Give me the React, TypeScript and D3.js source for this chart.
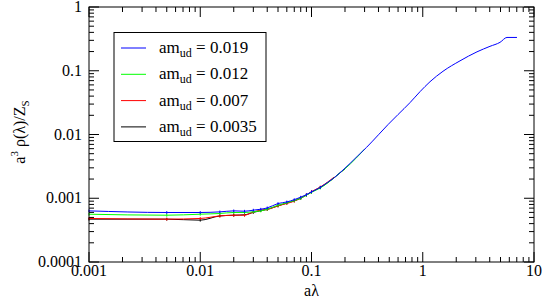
import React from "react";
import * as d3 from "d3";

const lamBlue = [0.001, 0.005, 0.01, 0.015, 0.02, 0.025, 0.03, 0.035, 0.04, 0.05, 0.06, 0.07, 0.08, 0.09, 0.1, 0.12, 0.14, 0.16, 0.18, 0.2, 0.222, 0.26, 0.313, 0.4, 0.487, 0.6, 0.768, 0.945, 1.162, 1.52, 2.162, 3.073, 4.02, 4.95, 5.72, 7.03];
const valBlue = [0.000634, 0.000598, 0.000598, 0.000611, 0.000634, 0.000626, 0.00065, 0.000673, 0.000705, 0.000826, 0.000875, 0.00095, 0.00104, 0.00114, 0.00126, 0.00148, 0.00178, 0.0021, 0.0025, 0.00297, 0.00352, 0.00461, 0.0063, 0.0099, 0.0143, 0.0206, 0.0316, 0.047, 0.0673, 0.098, 0.143, 0.198, 0.2415, 0.279, 0.333, 0.333];

const lamGreen = [0.001, 0.005, 0.01, 0.015, 0.02, 0.025, 0.03, 0.035, 0.04, 0.05, 0.06, 0.07, 0.08, 0.09, 0.1, 0.12, 0.14, 0.16, 0.18, 0.2, 0.25, 0.3];
const valGreen = [0.000562, 0.000542, 0.000562, 0.000577, 0.000598, 0.000598, 0.000615, 0.000634, 0.000673, 0.000778, 0.00085, 0.00092, 0.001, 0.00112, 0.00124, 0.00145, 0.00174, 0.0021, 0.0025, 0.0029, 0.0042, 0.0059];

const lamRed = [0.001, 0.005, 0.01, 0.015, 0.02, 0.025, 0.03, 0.035, 0.04, 0.05, 0.06, 0.07, 0.08, 0.09, 0.1, 0.12, 0.14, 0.16];
const valRed = [0.000482, 0.00047, 0.000482, 0.000528, 0.000542, 0.000542, 0.00061, 0.00065, 0.000666, 0.000759, 0.00083, 0.0009, 0.00101, 0.00113, 0.00127, 0.0015, 0.0018, 0.00215];

const lamBlack = [0.001, 0.005, 0.01, 0.015, 0.02, 0.025, 0.03, 0.035, 0.04, 0.05, 0.06, 0.07, 0.08, 0.09, 0.1, 0.12, 0.14, 0.16, 0.18, 0.2];
const valBlack = [0.00047, 0.00047, 0.000453, 0.000528, 0.000542, 0.00055, 0.0006, 0.00064, 0.00067, 0.00076, 0.00084, 0.00091, 0.001, 0.00112, 0.00125, 0.00148, 0.00176, 0.0021, 0.0025, 0.0029];

const seriesNames = ["0.019", "0.012", "0.007", "0.0035"];
const seriesColors = ["#0000ff", "#00ff00", "#ff0000", "#000000"];

const xTickLabels = ["0.001", "0.01", "0.1", "1", "10"];
const yTickLabels = ["0.0001", "0.001", "0.01", "0.1", "1"];
const REL_ERR = 0.05;

const FONT = "Liberation Serif, Times New Roman, Times, Nimbus Roman, Tinos, Noto Serif, FreeSerif, DejaVu Serif, serif";

export default function App() {
  const W = 545, H = 302;
  const L = 89, R = 534, T = 7, B = 262;
  const x = d3.scaleLog().domain([0.001, 10]).range([L, R]);
  const y = d3.scaleLog().domain([0.0001, 1]).range([B, T]);

  const series = [
    { lam: lamBlue, val: valBlue },
    { lam: lamGreen, val: valGreen },
    { lam: lamRed, val: valRed },
    { lam: lamBlack, val: valBlack },
  ];
  const line = d3.line<[number, number]>().x((d) => x(d[0])).y((d) => y(d[1])).curve(d3.curveMonotoneX);

  const xMajor = xTickLabels.map(Number);
  const yMajor = yTickLabels.map(Number);
  const xMinor: number[] = [];
  xMajor.slice(0, -1).forEach((m) => { for (let k = 2; k <= 9; k++) xMinor.push(m * k); });
  const yMinor: number[] = [];
  yMajor.slice(0, -1).forEach((m) => { for (let k = 2; k <= 9; k++) yMinor.push(m * k); });

  const MAJ = 10, MIN = 5;
  const order = [3, 2, 1, 0];

  return (
    <svg width={W} height={H} style={{ position: "absolute", left: 0, top: 0, background: "#fff", fontFamily: FONT }}>
      <rect x={0} y={0} width={W} height={H} fill="#fff" />
      {order.map((si) => {
        const s = series[si];
        const pts = s.lam.map((l, i) => [l, s.val[i]] as [number, number]);
        return (
          <g key={si} stroke={seriesColors[si]} fill="none" strokeWidth={1}>
            <path d={line(pts) || ""} />
            {pts.filter((p) => p[0] <= 0.12).map((p, i) => {
              const cx = x(p[0]);
              const y1 = y(p[1] * (1 + REL_ERR));
              const y2 = y(p[1] * (1 - REL_ERR));
              return <line key={i} x1={cx} x2={cx} y1={y1} y2={y2} />;
            })}
          </g>
        );
      })}
      <rect x={L} y={T} width={R - L} height={B - T} fill="none" stroke="#000" strokeWidth={1} />
      <g stroke="#000" strokeWidth={1}>
        {xMajor.map((v, i) => (
          <g key={"xm" + i}>
            <line x1={x(v)} x2={x(v)} y1={B} y2={B - MAJ} />
            <line x1={x(v)} x2={x(v)} y1={T} y2={T + MAJ} />
          </g>
        ))}
        {xMinor.map((v, i) => (
          <g key={"xn" + i}>
            <line x1={x(v)} x2={x(v)} y1={B} y2={B - MIN} />
            <line x1={x(v)} x2={x(v)} y1={T} y2={T + MIN} />
          </g>
        ))}
        {yMajor.map((v, i) => (
          <g key={"ym" + i}>
            <line x1={L} x2={L + MAJ} y1={y(v)} y2={y(v)} />
            <line x1={R} x2={R - MAJ} y1={y(v)} y2={y(v)} />
          </g>
        ))}
        {yMinor.map((v, i) => (
          <g key={"yn" + i}>
            <line x1={L} x2={L + MIN} y1={y(v)} y2={y(v)} />
            <line x1={R} x2={R - MIN} y1={y(v)} y2={y(v)} />
          </g>
        ))}
      </g>
      <g fontSize={16} fill="#000">
        {xTickLabels.map((t, i) => (
          <text key={"xl" + i} x={x(xMajor[i])} y={B + 14} textAnchor="middle">{t}</text>
        ))}
        {yTickLabels.map((t, i) => (
          <text key={"yl" + i} x={L - 7} y={y(yMajor[i]) + 5} textAnchor="end">{t}</text>
        ))}
      </g>
      <text x={(L + R) / 2} y={296} textAnchor="middle" fontSize={16}>aλ</text>
      <g transform="translate(25,132) rotate(-90)">
        <text x={0} y={0} textAnchor="middle" fontSize={16}>
          a<tspan dy={-7} fontSize={11}>3</tspan>
          <tspan dy={7}> ρ(λ)/Z</tspan>
          <tspan dy={4} fontSize={11}>S</tspan>
        </text>
      </g>
      <rect x={114} y={32.5} width={152} height={109} fill="#fff" stroke="#000" strokeWidth={1} />
      {seriesNames.map((n, i) => {
        const ly = 48 + i * 26.3;
        return (
          <g key={"lg" + i}>
            <line x1={121} x2={146} y1={ly} y2={ly} stroke={seriesColors[i]} strokeWidth={1} />
            <text x={159} y={ly + 5} fontSize={17}>
              am<tspan dy={4} fontSize={12}>ud</tspan>
              <tspan dy={-4}> = {n}</tspan>
            </text>
          </g>
        );
      })}
    </svg>
  );
}
